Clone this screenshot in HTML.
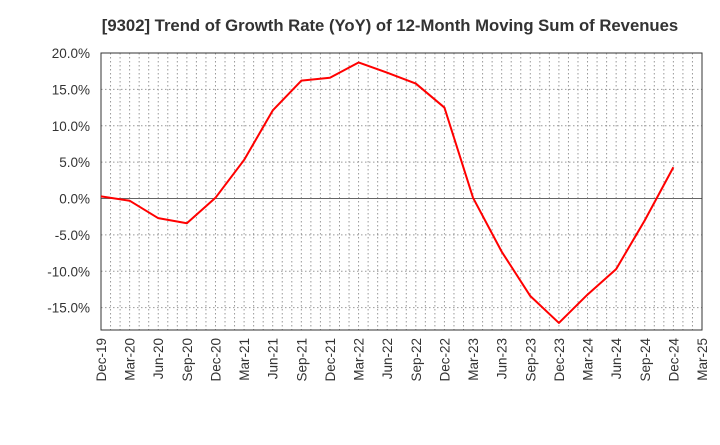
<!DOCTYPE html>
<html><head><meta charset="utf-8"><style>
body{margin:0;background:#fff;font-family:"Liberation Sans",sans-serif}
</style></head><body>
<svg id="chart" width="720" height="440" xmlns="http://www.w3.org/2000/svg" font-family="Liberation Sans, sans-serif">
<text x="390" y="31" text-anchor="middle" font-size="16.7" font-weight="bold" fill="#333">[9302]  Trend of Growth Rate (YoY) of 12-Month Moving Sum of Revenues</text>
<g id="grid"></g><g id="axes"></g><g id="series"></g>
</svg>
<script>
const xLabels=["Dec-19","Mar-20","Jun-20","Sep-20","Dec-20","Mar-21","Jun-21","Sep-21","Dec-21","Mar-22","Jun-22","Sep-22","Dec-22","Mar-23","Jun-23","Sep-23","Dec-23","Mar-24","Jun-24","Sep-24","Dec-24","Mar-25"];
const yTicks=[20,15,10,5,0,-5,-10,-15];
const values=[0.3,-0.3,-2.7,-3.4,0.1,5.3,12.1,16.2,16.6,18.7,17.3,15.8,12.5,0.1,-7.3,-13.4,-17.1,-13.2,-9.7,-3.0,4.3];
const L=101,R=702,T=53,B=330,yMin=-18.07,yMax=20;
const NS="http://www.w3.org/2000/svg";
const x=i=>L+(R-L)*i/(xLabels.length-1);
const y=v=>B-(v-yMin)/(yMax-yMin)*(B-T);
function mk(tag,attrs,parent){const e=document.createElementNS(NS,tag);for(const k in attrs)e.setAttribute(k,attrs[k]);document.getElementById(parent).appendChild(e);return e;}
const nMonths=(xLabels.length-1)*3;
for(let m=1;m<nMonths;m++){const xx=L+(R-L)*m/nMonths;
 const g=mk('line',{x1:xx,x2:xx,y1:T,y2:B,stroke:'#999','stroke-dasharray':'1.5,2.5','stroke-width':1},'grid');
 
 }
yTicks.forEach(v=>{const yy=y(v);
 const g=mk('line',{x1:L,x2:R,y1:yy,y2:yy,stroke:v===0?'#666':'#999','stroke-dasharray':v===0?'':'1.5,2.5','stroke-width':1},'grid');
 
 
 const t=mk('text',{x:L-11,y:yy+5,'text-anchor':'end','font-size':13.5,fill:'#333'},'axes');
 
 
 t.textContent=v.toFixed(1)+'%';});
const fr=mk('rect',{x:L,y:T,width:R-L,height:B-T,fill:'none',stroke:'#333','stroke-width':1},'axes');


xLabels.forEach((lb,i)=>{const xx=x(i);
 const t=mk('text',{x:0,y:0,'text-anchor':'end','font-size':13.5,fill:'#333',transform:`translate(${xx+5},${B+8}) rotate(-90)`},'axes');
 
 
 t.textContent=lb;});
const p=mk('polyline',{points:values.map((v,i)=>x(i)+','+y(v)).join(' '),fill:'none',stroke:'#f00','stroke-width':2,'stroke-linejoin':'round'},'series');


</script>
</body></html>
